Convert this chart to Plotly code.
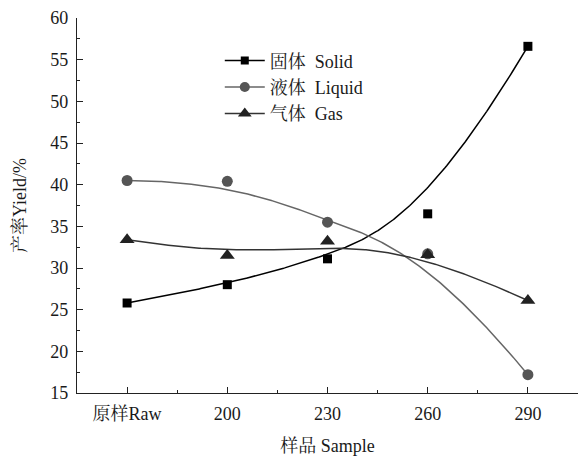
import numpy as np
import plotly.graph_objects as go

categories = ["原样Raw", "200", "230", "260", "290"]
solid = [25.8, 28.0, 31.1, 36.5, 56.6]
liquid = [40.5, 40.4, 35.5, 31.7, 17.2]
gas = [33.4, 31.5, 33.2, 31.6, 26.1]

CJK = "Noto Serif CJK SC, Noto Sans CJK SC"


def cjk(s):
    return f'<span style="font-family:{CJK}">{s}</span>'


series = [
    (cjk("固体") + "  Solid", solid, "square", 9, "#000000", "#000000"),
    (cjk("液体") + "  Liquid", liquid, "circle", 11, "#555555", "#666666"),
    (cjk("气体") + "  Gas", gas, "triangle-up", 13, "#222222", "#333333"),
]


def bspline(cx, cy, p=3, num=300):
    """Clamped uniform B-spline (endpoints interpolated), as Origin's B-spline connector."""
    cx = np.asarray(cx, float)
    cy = np.asarray(cy, float)
    n = len(cx)
    knots = np.concatenate([np.zeros(p), np.linspace(0, 1, n - p + 1), np.ones(p)])
    ts = np.linspace(0, 1, num)
    out_x, out_y = [], []
    for t in ts:
        if t >= 1:
            out_x.append(cx[-1]); out_y.append(cy[-1]); continue
        N = np.array([1.0 if knots[i] <= t < knots[i + 1] else 0.0 for i in range(len(knots) - 1)])
        for d in range(1, p + 1):
            Nn = np.zeros(len(knots) - 1 - d)
            for i in range(len(Nn)):
                a = 0.0
                if knots[i + d] != knots[i]:
                    a += (t - knots[i]) / (knots[i + d] - knots[i]) * N[i]
                if knots[i + d + 1] != knots[i + 1]:
                    a += (knots[i + d + 1] - t) / (knots[i + d + 1] - knots[i + 1]) * N[i + 1]
                Nn[i] = a
            N = Nn
        out_x.append(float(N @ cx)); out_y.append(float(N @ cy))
    return out_x, out_y


x = np.arange(len(categories))

fig = go.Figure()
for name, y, sym, sz, mc, lc in series:
    bx, by = bspline(x, y)
    fig.add_trace(go.Scatter(x=bx, y=by, mode="lines",
                             line=dict(color=lc, width=1.5), showlegend=False,
                             hoverinfo="skip"))
    fig.add_trace(go.Scatter(x=x, y=y, mode="markers", name=name,
                             marker=dict(symbol=sym, size=sz, color=mc),
                             showlegend=False))
    fig.add_trace(go.Scatter(x=[None], y=[None], mode="lines+markers", name=name,
                             line=dict(color=lc, width=1.5),
                             marker=dict(symbol=sym, size=sz - 1, color=mc)))

font = "Liberation Serif"
fig.update_layout(
    width=578, height=457,
    margin=dict(l=77, r=0, t=18, b=64),
    plot_bgcolor="white", paper_bgcolor="white",
    font=dict(family=font, size=18, color="#1a1a1a"),
    legend=dict(x=0.285, y=0.935, xanchor="left", yanchor="top",
                bgcolor="rgba(0,0,0,0)", font=dict(size=18),
                tracegroupgap=0, itemwidth=40),
    xaxis=dict(range=[-0.5, 4.5], tickmode="array", tickvals=list(x),
               ticktext=[cjk(c[:2]) + c[2:] if not c[0].isdigit() else c for c in categories],
               showline=True, linecolor="#222", linewidth=1.2, showgrid=False, zeroline=False,
               ticks="inside", ticklen=6, tickcolor="#222", ticklabelstandoff=4,
               minor=dict(tickmode="array", tickvals=[v + 0.5 for v in x[:-1]],
                          ticks="inside", ticklen=3, tickcolor="#222"),
               title=dict(text=cjk("样品") + " Sample", font=dict(size=18), standoff=16)),
    yaxis=dict(range=[15, 60], dtick=5, showline=True, linecolor="#222", linewidth=1.2,
               showgrid=False, zeroline=False, ticks="inside", ticklen=6, tickcolor="#222",
               ticklabelstandoff=4,
               minor=dict(dtick=2.5, ticks="inside", ticklen=3, tickcolor="#222"),
               title=dict(text=cjk("产率") + "Yield/%", font=dict(size=18), standoff=18)),
)
fig.write_html("out.html")
